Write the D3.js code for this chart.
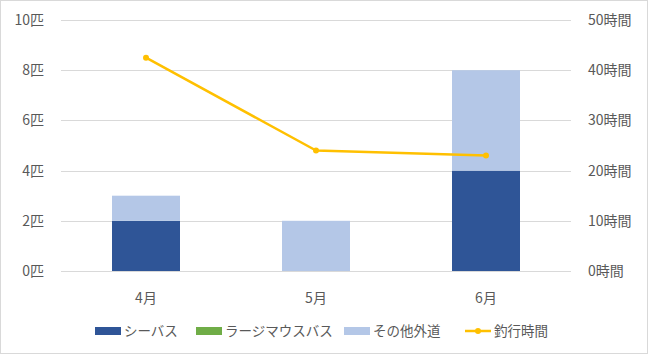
<!DOCTYPE html>
<html lang="ja">
<head>
  <meta charset="UTF-8">
  <title>釣果</title>
  <script src="https://d3js.org/d3.v7.min.js"></script>
  <style>
    body { margin: 0; background: #fff; }
    svg { display: block; font-family: "Noto Sans CJK JP", "Noto Sans", sans-serif; }
  </style>
</head>
<body>
  <div id="chart"></div>
  <script>
    // データ
    const months = ["4月", "5月", "6月"];
    const seriesNames = ["シーバス", "ラージマウスバス", "その他外道"];
    const seabass = [2, 0, 4];
    const largemouth = [0, 0, 0];
    const others = [1, 2, 4];
    const fishingHours = [42.5, 24, 23];
    const leftTicks = [0, 2, 4, 6, 8, 10];
    const rightTicks = [0, 10, 20, 30, 40, 50];
    const lineName = "釣行時間";

    const colors = ["#2F5597", "#70AD47", "#B4C7E7"];
    const lineColor = "#FFC000";
    const textColor = "#595959";

    const W = 648, H = 354;
    const plot = { left: 61, right: 571, top: 20, bottom: 271 };

    const svg = d3.select("#chart").append("svg")
      .attr("width", W).attr("height", H);

    svg.append("rect")
      .attr("x", 0.5).attr("y", 0.5)
      .attr("width", W - 1).attr("height", H - 1)
      .attr("fill", "#fff").attr("stroke", "#D9D9D9");

    const x = d3.scaleBand().domain(months).range([plot.left, plot.right]);
    const yL = d3.scaleLinear().domain([0, 10]).range([plot.bottom, plot.top]);
    const yR = d3.scaleLinear().domain([0, 50]).range([plot.bottom, plot.top]);

    // グリッド線
    svg.append("g").selectAll("line")
      .data(leftTicks).enter().append("line")
      .attr("x1", plot.left).attr("x2", plot.right)
      .attr("y1", d => Math.round(yL(d)) + 0.5).attr("y2", d => Math.round(yL(d)) + 0.5)
      .attr("stroke", "#D9D9D9").attr("stroke-width", 1);

    // 左軸ラベル
    svg.append("g").selectAll("text")
      .data(leftTicks).enter().append("text")
      .attr("x", 44).attr("y", d => yL(d))
      .attr("dy", "0.35em").attr("text-anchor", "end")
      .attr("font-size", 14).attr("fill", textColor)
      .text(d => d + "匹");

    // 右軸ラベル
    svg.append("g").selectAll("text")
      .data(rightTicks).enter().append("text")
      .attr("x", 588).attr("y", d => yR(d))
      .attr("dy", "0.35em").attr("text-anchor", "start")
      .attr("font-size", 14).attr("fill", textColor)
      .text(d => d + "時間");

    // 積み上げ棒
    const rows = months.map((m, i) => ({ month: m, s0: seabass[i], s1: largemouth[i], s2: others[i] }));
    const stack = d3.stack().keys(["s0", "s1", "s2"]);
    const stacked = stack(rows);
    const barW = x.bandwidth() * 0.4;

    svg.append("g").selectAll("g")
      .data(stacked).enter().append("g")
      .attr("fill", (d, i) => colors[i])
      .selectAll("rect")
      .data(d => d).enter().append("rect")
      .attr("x", d => x(d.data.month) + x.bandwidth() / 2 - barW / 2)
      .attr("width", barW)
      .attr("y", d => yL(d[1]))
      .attr("height", d => yL(d[0]) - yL(d[1]));

    // 折れ線
    const line = d3.line()
      .x((d, i) => x(months[i]) + x.bandwidth() / 2)
      .y(d => yR(d));

    svg.append("path")
      .datum(fishingHours)
      .attr("d", line)
      .attr("fill", "none")
      .attr("stroke", lineColor)
      .attr("stroke-width", 2.5)
      .attr("stroke-linejoin", "round");

    svg.append("g").selectAll("circle")
      .data(fishingHours).enter().append("circle")
      .attr("cx", (d, i) => x(months[i]) + x.bandwidth() / 2)
      .attr("cy", d => yR(d))
      .attr("r", 3)
      .attr("fill", lineColor);

    // X軸ラベル
    svg.append("g").selectAll("text")
      .data(months).enter().append("text")
      .attr("x", d => x(d) + x.bandwidth() / 2)
      .attr("y", 298).attr("dy", "0.35em")
      .attr("text-anchor", "middle")
      .attr("font-size", 14).attr("fill", textColor)
      .text(d => d);

    // 凡例
    const legendY = 331;
    const legendX = [95, 196, 344];
    seriesNames.forEach((name, i) => {
      svg.append("rect")
        .attr("x", legendX[i]).attr("y", legendY - 4)
        .attr("width", 26).attr("height", 8)
        .attr("fill", colors[i]);
      svg.append("text")
        .attr("x", legendX[i] + 29).attr("y", legendY).attr("dy", "0.35em")
        .attr("font-size", 13.5).attr("fill", textColor)
        .text(name);
    });
    svg.append("line")
      .attr("x1", 465).attr("x2", 491)
      .attr("y1", legendY).attr("y2", legendY)
      .attr("stroke", lineColor).attr("stroke-width", 2.5);
    svg.append("circle")
      .attr("cx", 478).attr("cy", legendY).attr("r", 3).attr("fill", lineColor);
    svg.append("text")
      .attr("x", 494).attr("y", legendY).attr("dy", "0.35em")
      .attr("font-size", 13.5).attr("fill", textColor)
      .text(lineName);
  </script>
</body>
</html>
